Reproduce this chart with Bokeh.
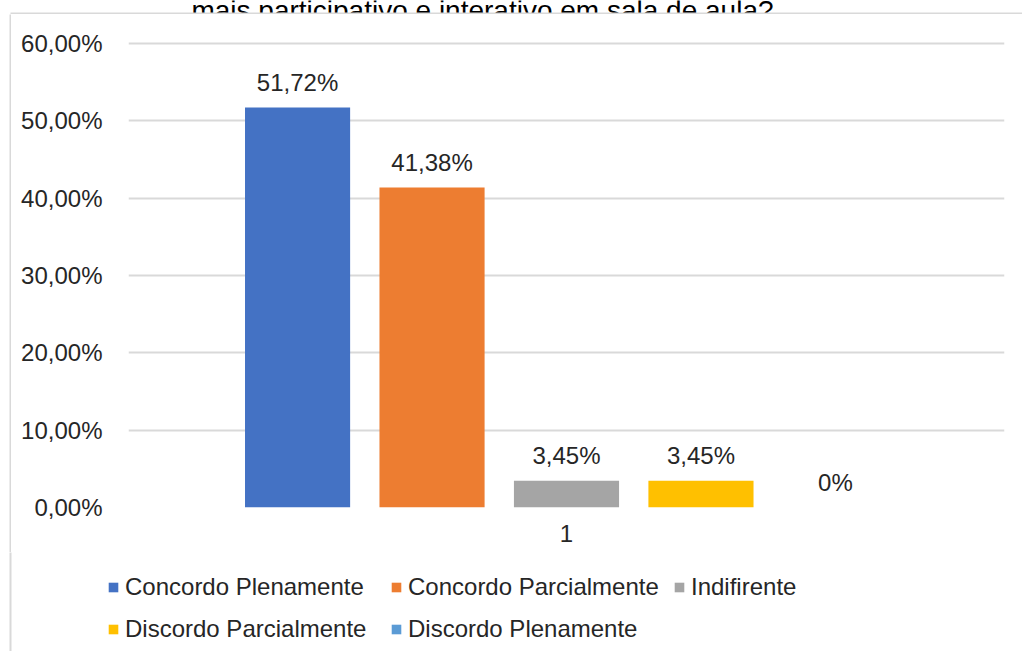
from bokeh.plotting import figure
from bokeh.layouts import column, row
from bokeh.models import (ColumnDataSource, Legend, LegendItem,
                          FixedTicker, Range1d, FactorRange)
from bokeh.transform import dodge
from bokeh.core.properties import value
from bokeh.embed import file_html
from bokeh.resources import INLINE

# ---- data ----
category = ["1"]
series_names = ["Concordo Plenamente", "Concordo Parcialmente", "Indifirente",
                "Discordo Parcialmente", "Discordo Plenamente"]
series_values = [51.72, 41.38, 3.45, 3.45, 0.0]
value_labels = ["51,72%", "41,38%", "3,45%", "3,45%", "0%"]
series_colors = ["#4472C4", "#ED7D31", "#A5A5A5", "#FFC000", "#5B9BD5"]
y_ticks = [0, 10, 20, 30, 40, 50, 60]
y_tick_labels = ["0,00%", "10,00%", "20,00%", "30,00%", "40,00%", "50,00%", "60,00%"]
title_text = "mais participativo e interativo em sala de aula?"

FONT = "Liberation Sans"
TXT = "#262626"
BORDER = "#d9d9d9"
W, H = 1022, 651
TOP_H, LEFT_W = 14, 11
MAIN_H = 538
LEG_H = H - TOP_H - MAIN_H


def blank(width, height):
    f = figure(width=width, height=height, x_range=Range1d(0, width), y_range=Range1d(0, height),
               x_axis_type=None, y_axis_type=None, output_backend="svg", toolbar_location=None,
               min_border=0, min_border_left=0, min_border_right=0,
               min_border_top=0, min_border_bottom=0)
    f.outline_line_color = None
    f.xgrid.visible = False
    f.ygrid.visible = False
    return f


# ---- title strip (title is cut off at the top, as in the original) ----
t = blank(W, TOP_H)
t.text(x=[482], y=[4], text=[title_text], text_align="center", text_baseline="alphabetic",
       text_font=value(FONT), text_font_size="28px", text_color="#000000")
t.segment(x0=[10], x1=[W], y0=[1], y1=[1], line_color=BORDER, line_width=2)

# ---- left strip (chart border) ----
l = blank(LEFT_W, MAIN_H)
l.segment(x0=[10], x1=[10], y0=[-1], y1=[MAIN_H + 1], line_color=BORDER, line_width=2)

# ---- main chart ----
p = figure(width=W - LEFT_W, height=MAIN_H, x_range=FactorRange(*category),
           y_range=Range1d(0, 60.39), output_backend="svg", toolbar_location=None,
           min_border_left=117, min_border_right=18, min_border_top=26,
           min_border_bottom=MAIN_H - 493)
p.outline_line_color = None

step = 0.1535
offsets = [(i - 2) * step for i in range(len(series_names))]
for v, lab, col, off in zip(series_values, value_labels, series_colors, offsets):
    src = ColumnDataSource(dict(cat=category, v=[v], lab=[lab]))
    p.vbar(x=dodge("cat", off, range=p.x_range), top="v", width=0.12, source=src,
           fill_color=col, line_color=None)
    p.text(x=dodge("cat", off, range=p.x_range), y="v", text="lab", source=src,
           text_align="center", text_baseline="alphabetic", y_offset=-25,
           text_font=value(FONT), text_font_size="24px", text_color=TXT)

p.yaxis.ticker = FixedTicker(ticks=y_ticks)
p.yaxis.major_label_overrides = {tk: s for tk, s in zip(y_ticks, y_tick_labels)}
for ax in (p.xaxis[0], p.yaxis[0]):
    ax.axis_line_color = None
    ax.major_tick_line_color = None
    ax.minor_tick_line_color = None
    ax.major_label_text_font = FONT
    ax.major_label_text_font_size = "24px"
    ax.major_label_text_color = TXT
p.yaxis.major_label_standoff = 20
p.xaxis.major_label_standoff = 11
p.xgrid.grid_line_color = None
p.ygrid.grid_line_color = BORDER
p.ygrid.grid_line_width = 2

# ---- legend strip ----
lg = blank(W, LEG_H)
lg.segment(x0=[10], x1=[10], y0=[-1], y1=[LEG_H + 1], line_color=BORDER, line_width=2)
items = []
for name, col in zip(series_names, series_colors):
    r = lg.vbar(x=[-50], top=[0], bottom=[0], width=1, fill_color=col, line_color=None)
    items.append(LegendItem(label=name, renderers=[r]))
legend = Legend(items=items, location=(107, 8), orientation="horizontal", ncols=3,
                glyph_width=12, glyph_height=12, label_standoff=6, label_width=251,
                label_height=25, spacing=14, padding=0, margin=0,
                label_text_font=FONT, label_text_font_size="24px", label_text_color=TXT,
                border_line_color=None, background_fill_alpha=0)
lg.add_layout(legend, "center")

layout = column(t, row(column(l, spacing=0), p, spacing=0), lg, spacing=0)
open("out.html", "w").write(file_html(layout, INLINE))
